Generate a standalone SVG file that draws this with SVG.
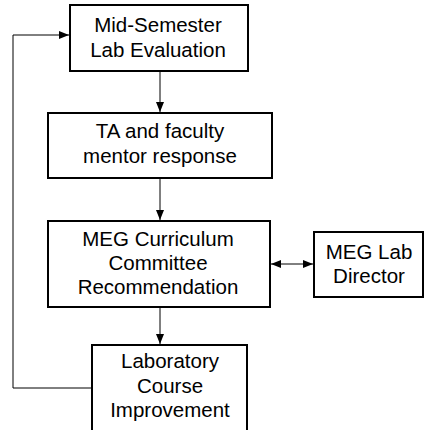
<svg xmlns="http://www.w3.org/2000/svg" width="425" height="430" viewBox="0 0 425 430">
<defs>
<marker id="ah" viewBox="0 0 10 10" refX="10" refY="5" markerWidth="10" markerHeight="10" markerUnits="userSpaceOnUse" orient="auto-start-reverse">
<path d="M0,1 L10,5 L0,9 Z" fill="#000"/>
</marker>
<style>
.box{fill:#fff;stroke:#000;stroke-width:2}
.t{font-family:"Liberation Sans",Arial,sans-serif;font-size:20.5px;fill:#000;text-anchor:middle}
.c{fill:none;stroke:#000;stroke-width:1}
</style>
</defs>
<rect width="425" height="430" fill="#fff"/>
<g id="connectors">
<line class="c" x1="160" y1="71" x2="160" y2="112" marker-end="url(#ah)"/>
<line class="c" x1="160" y1="178" x2="160" y2="220" marker-end="url(#ah)"/>
<line class="c" x1="160" y1="307" x2="160" y2="344" marker-end="url(#ah)"/>
<line class="c" x1="271" y1="264" x2="313" y2="264" marker-start="url(#ah)" marker-end="url(#ah)"/>
<polyline class="c" points="91,388 13,388 13,35 69,35" marker-end="url(#ah)"/>
</g>
<g id="n1">
<rect class="box" x="70" y="5" width="178" height="66"/>
<text class="t" x="158" y="32">Mid-Semester</text>
<text class="t" x="158" y="57">Lab Evaluation</text>
</g>
<g id="n2">
<rect class="box" x="48" y="113" width="224" height="65"/>
<text class="t" x="160" y="138">TA and faculty</text>
<text class="t" x="160" y="163">mentor response</text>
</g>
<g id="n3">
<rect class="box" x="48" y="221" width="222" height="86"/>
<text class="t" x="158" y="246">MEG Curriculum</text>
<text class="t" x="158" y="270">Committee</text>
<text class="t" x="158" y="294">Recommendation</text>
</g>
<g id="n4">
<rect class="box" x="314" y="232" width="109" height="65"/>
<text class="t" x="369" y="259">MEG Lab</text>
<text class="t" x="369" y="283">Director</text>
</g>
<g id="n5">
<rect class="box" x="92" y="345" width="155" height="95"/>
<text class="t" x="170" y="368">Laboratory</text>
<text class="t" x="170" y="393">Course</text>
<text class="t" x="170" y="417">Improvement</text>
</g>
</svg>
